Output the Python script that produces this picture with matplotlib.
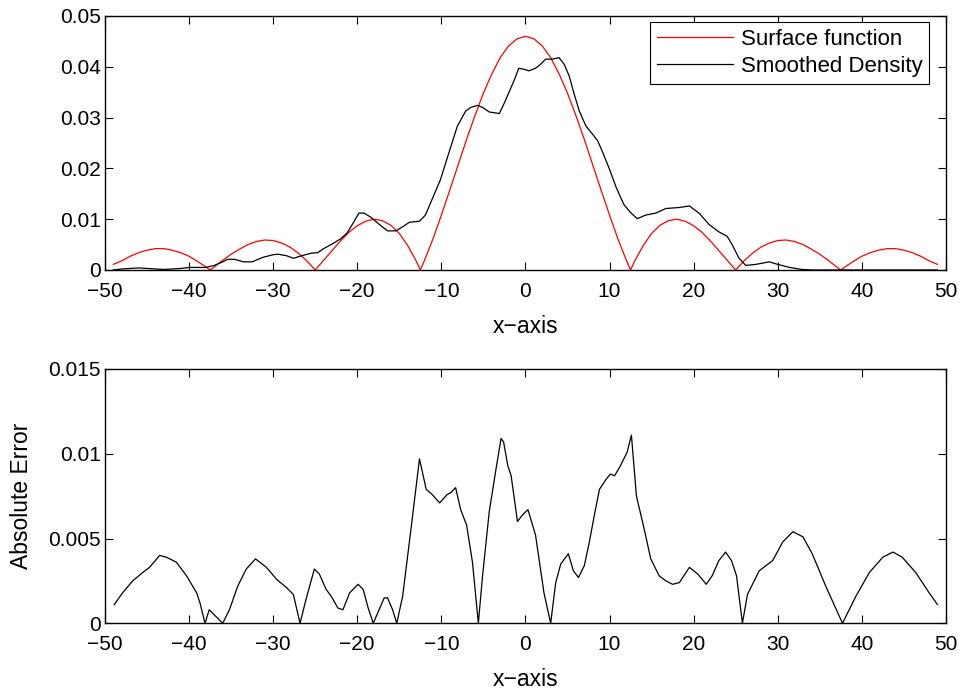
import matplotlib
matplotlib.use('Agg')
import matplotlib.pyplot as plt

# Surface function (red)
surf_x = [-49, -48, -47, -46, -45, -44, -43, -42, -41, -40, -39, -38, -37.5,
          -37, -36, -35, -34, -33, -32, -31, -30, -29, -28, -27, -26, -25,
          -24, -23, -22, -21, -20, -19, -18, -17, -16, -15, -14, -13, -12.5,
          -12, -11, -10, -9, -8, -7, -6, -5, -4, -3, -2, -1, 0,
          1, 2, 3, 4, 5, 6, 7, 8, 9, 10, 11, 12, 12.5,
          13, 14, 15, 16, 17, 18, 19, 20, 21, 22, 23, 24, 25,
          26, 27, 28, 29, 30, 31, 32, 33, 34, 35, 36, 37, 37.5,
          38, 39, 40, 41, 42, 43, 44, 45, 46, 47, 48, 49]
surf_y = [0.0011, 0.0018, 0.0027, 0.0034, 0.0039, 0.0042, 0.0042, 0.0039, 0.0034, 0.0027, 0.0017, 0.0006, 0.0,
          0.0006, 0.0019, 0.0031, 0.0041, 0.0050, 0.0056, 0.0059, 0.0058, 0.0053, 0.0045, 0.0033, 0.0018, 0.0,
          0.0019, 0.0038, 0.0057, 0.0074, 0.0087, 0.0096, 0.0100, 0.0097, 0.0088, 0.0072, 0.0048, 0.0018, 0.0,
          0.0019, 0.0061, 0.0108, 0.0157, 0.0207, 0.0257, 0.0304, 0.0348, 0.0386, 0.0418, 0.0441, 0.0455, 0.0460,
          0.0455, 0.0441, 0.0418, 0.0386, 0.0348, 0.0304, 0.0257, 0.0207, 0.0157, 0.0108, 0.0061, 0.0019, 0.0,
          0.0018, 0.0048, 0.0072, 0.0088, 0.0097, 0.0100, 0.0096, 0.0087, 0.0074, 0.0057, 0.0038, 0.0019, 0.0,
          0.0018, 0.0033, 0.0045, 0.0053, 0.0058, 0.0059, 0.0056, 0.0050, 0.0041, 0.0031, 0.0019, 0.0006, 0.0,
          0.0006, 0.0017, 0.0027, 0.0034, 0.0039, 0.0042, 0.0042, 0.0039, 0.0034, 0.0027, 0.0018, 0.0011]

# Smoothed density (black)
dens_x = [-49, -48, -47, -46, -45, -44, -43, -42, -41, -40, -39, -38, -37, -36,
          -35.4, -34.6, -33.5, -32.5, -31.2, -30, -29.4, -28.4, -27.6, -26.6, -25.5,
          -24.7, -24.0, -23, -22, -21.2, -20.5, -19.8, -19.2, -18.4, -17.4, -16.4,
          -15.4, -14.6, -13.8, -12.6, -11.9, -11.1, -10.1, -9.1, -8.1, -7.1, -6.5,
          -5.7, -5.1, -4.3, -3.1, -2.5, -1.9, -1.3, -0.8, -0.15, 0.4, 1.2, 1.8,
          2.4, 3.2, 4.0, 4.6, 5.2, 5.8, 6.4, 7.2, 8.0, 8.6, 9.2, 10.0, 10.8, 11.7,
          12.5, 13.3, 14.3, 15.5, 16.7, 18.3, 19.5, 20.7, 21.8, 23.0, 24.0, 24.6,
          25.4, 26.2, 27.4, 29.0, 30.0, 31.4, 32.9, 34.1, 40, 49]
dens_y = [0.0000, 0.0002, 0.0003, 0.0004, 0.0003, 0.0002, 0.0001, 0.0002, 0.0003, 0.0005, 0.0005, 0.0005, 0.0009, 0.0016,
          0.0021, 0.0021, 0.0016, 0.0016, 0.0025, 0.0030, 0.0031, 0.0028, 0.0023, 0.0028, 0.0033,
          0.0034, 0.0042, 0.0051, 0.0061, 0.0073, 0.0092, 0.0112, 0.0112, 0.0104, 0.0090, 0.0077,
          0.0077, 0.0085, 0.0094, 0.0096, 0.0108, 0.0139, 0.0178, 0.0231, 0.0283, 0.0313, 0.0320,
          0.0324, 0.0320, 0.0311, 0.0308, 0.0329, 0.0352, 0.0375, 0.0397, 0.0395, 0.0392, 0.0397, 0.0405,
          0.0415, 0.0415, 0.0418, 0.0405, 0.0382, 0.0346, 0.0313, 0.0283, 0.0267, 0.0254, 0.0231, 0.0198, 0.0162, 0.0129,
          0.0113, 0.0101, 0.0108, 0.0112, 0.0121, 0.0123, 0.0126, 0.0111, 0.0090, 0.0075, 0.0066, 0.0049,
          0.0023, 0.0009, 0.0011, 0.0016, 0.0011, 0.0005, 0.0001, 0.0000, 0.0000, 0.0000]

# Absolute error (lower panel)
err_x = [-48.9, -47.9, -46.7, -45.5, -44.7, -43.5, -42.7, -41.5, -40.3, -39.1, -38.7, -38.1,
         -37.6, -36.8, -36.0, -35.2, -34.2, -33.2, -32.1, -30.8, -29.6, -28.4, -27.6, -26.8,
         -26.1, -25.1, -24.5, -23.7, -23.1, -22.3, -21.7, -20.9, -19.9, -19.3, -18.7, -18.1,
         -17.4, -16.8, -16.4, -15.8, -15.3, -14.6, -13.6, -12.6, -11.8, -11.1, -10.2, -9.3,
         -8.9, -8.3, -7.7, -7.0, -6.3, -5.6, -5.1, -4.3, -3.5, -2.9, -2.6, -2.1, -1.7, -0.95,
         -0.35, 0.3, 1.2, 2.2, 3.0, 3.6, 4.2, 5.1, 5.7, 6.3, 7.0, 7.6, 8.2, 8.8, 9.6, 10.1,
         10.6, 11.3, 12.1, 12.6, 13.2, 14.1, 14.9, 15.9, 16.7, 17.5, 18.3, 19.5, 20.5, 21.5,
         22.2, 23.0, 23.8, 24.5, 25.1, 25.8, 26.4, 27.8, 29.4, 30.6, 31.8, 33.0, 34.1, 35.7,
         37.7, 39.3, 40.9, 42.5, 43.7, 44.8, 46.4, 48.0, 49.0]
err_y = [0.0011, 0.0018, 0.0025, 0.0030, 0.0033, 0.0040, 0.0039, 0.0036, 0.0028, 0.0018, 0.0012, 0.0,
         0.0008, 0.0004, 0.0, 0.0008, 0.0022, 0.0032, 0.0038, 0.0033, 0.0026, 0.0021, 0.0017, 0.0,
         0.0014, 0.0032, 0.0029, 0.0020, 0.0016, 0.0009, 0.0008, 0.0018, 0.0023, 0.0020, 0.0009, 0.0,
         0.0008, 0.0015, 0.0015, 0.0008, 0.0, 0.0016, 0.0056, 0.0097, 0.0079, 0.0076, 0.0071, 0.0076,
         0.0077, 0.0080, 0.0067, 0.0058, 0.0036, 0.0, 0.0028, 0.0066, 0.0091, 0.0109, 0.0107, 0.0093, 0.0087, 0.0060,
         0.0064, 0.0067, 0.0052, 0.0018, 0.0, 0.0024, 0.0035, 0.0041, 0.0031, 0.0027, 0.0034, 0.0048, 0.0064, 0.0079, 0.0085, 0.0088,
         0.0087, 0.0093, 0.0101, 0.0111, 0.0075, 0.0056, 0.0038, 0.0028, 0.0025, 0.0023, 0.0024, 0.0033, 0.0029, 0.0023,
         0.0028, 0.0037, 0.0042, 0.0037, 0.0028, 0.0, 0.0017, 0.0031, 0.0037, 0.0048, 0.0054, 0.0051, 0.0041, 0.0022,
         0.0, 0.0016, 0.0030, 0.0039, 0.0042, 0.0039, 0.0030, 0.0018, 0.0011]

x_ticks = [-50, -40, -30, -20, -10, 0, 10, 20, 30, 40, 50]
top_yticks = [0, 0.01, 0.02, 0.03, 0.04, 0.05]
top_ylabels = ['0', '0.01', '0.02', '0.03', '0.04', '0.05']
bot_yticks = [0, 0.005, 0.01, 0.015]
bot_ylabels = ['0', '0.005', '0.01', '0.015']

plt.rcParams['font.family'] = ['Liberation Sans', 'DejaVu Sans']
plt.rcParams['font.size'] = 15
plt.rcParams['axes.labelsize'] = 16.5


def estilo(ax):
    ax.set_xlim(-50, 50)
    ax.set_xticks(x_ticks)
    ax.tick_params(direction='in', top=True, right=True, length=6, width=0.8)
    ax.tick_params(axis='x', pad=8.5)
    ax.tick_params(axis='y', pad=3)
    for s in ax.spines.values():
        s.set_linewidth(1.0)


fig = plt.figure(figsize=(9.62, 6.91), dpi=100)

ax1 = fig.add_axes([0.1091, 0.6093, 0.8742, 0.3676])
ax1.plot(surf_x, surf_y, color='#ff0000', linewidth=0.9, label='Surface function')
ax1.plot(dens_x, dens_y, color='black', linewidth=0.9, label='Smoothed Density')
estilo(ax1)
ax1.set_ylim(0, 0.05)
ax1.set_yticks(top_yticks, top_ylabels)
ax1.set_xlabel('x\u2212axis', labelpad=10)
leg = ax1.legend(loc='upper right', bbox_to_anchor=(0.980, 0.976), borderaxespad=0,
                 fancybox=False, edgecolor='black', framealpha=1, fontsize=16,
                 handlelength=3.4, handletextpad=0.36, borderpad=0.3, labelspacing=0.28)
leg.get_frame().set_linewidth(0.8)

ax2 = fig.add_axes([0.1091, 0.0980, 0.8742, 0.3680])
ax2.plot(err_x, err_y, color='black', linewidth=0.9)
estilo(ax2)
ax2.set_ylim(0, 0.015)
ax2.set_yticks(bot_yticks, bot_ylabels)
ax2.set_xlabel('x\u2212axis', labelpad=10)
ax2.set_ylabel('Absolute Error')
ax2.yaxis.set_label_coords(-0.086, 0.5)

fig.savefig('out.png', dpi=100)
